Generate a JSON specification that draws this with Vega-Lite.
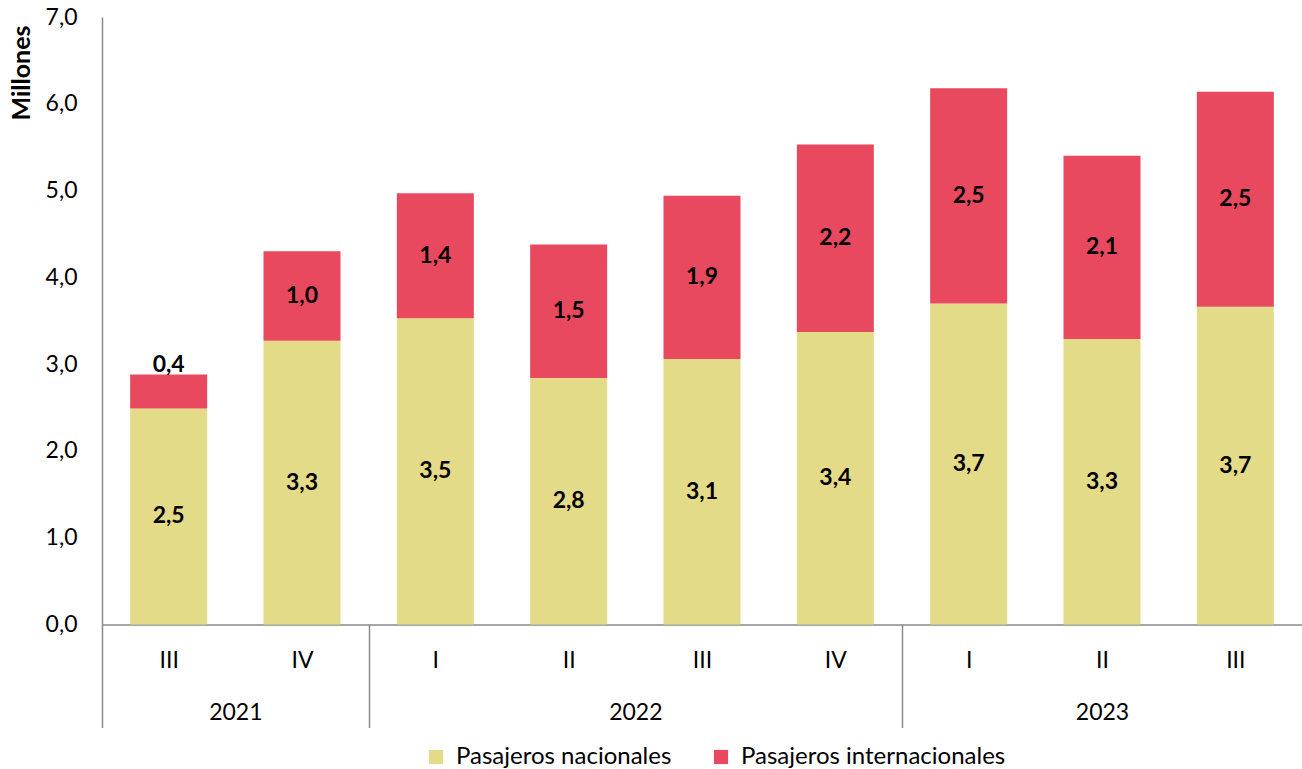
{
  "$schema": "https://vega.github.io/schema/vega-lite/v6.json",
  "width": 1200,
  "height": 607.5,
  "autosize": "none",
  "padding": {"left": 102, "top": 17, "right": 0, "bottom": 144.5},
  "config": {
    "locale": {"number": {"decimal": ",", "thousands": ".", "grouping": [3], "currency": ["", " €"]}},
    "font": "Lato",
    "view": {"stroke": null},
    "axis": {"grid": false, "ticks": false, "labelFont": "Lato", "labelFontSize": 23, "labelColor": "#000000", "domainColor": "#898989", "domainWidth": 1.5}
  },
  "data": {
    "values": [
      {"idx": 0, "trimestre": "III", "anio": "2021", "tipo": "Pasajeros nacionales", "valor": 2.49},
      {"idx": 0, "trimestre": "III", "anio": "2021", "tipo": "Pasajeros internacionales", "valor": 0.39},
      {"idx": 1, "trimestre": "IV", "anio": "2021", "tipo": "Pasajeros nacionales", "valor": 3.27},
      {"idx": 1, "trimestre": "IV", "anio": "2021", "tipo": "Pasajeros internacionales", "valor": 1.03},
      {"idx": 2, "trimestre": "I", "anio": "2022", "tipo": "Pasajeros nacionales", "valor": 3.53},
      {"idx": 2, "trimestre": "I", "anio": "2022", "tipo": "Pasajeros internacionales", "valor": 1.44},
      {"idx": 3, "trimestre": "II", "anio": "2022", "tipo": "Pasajeros nacionales", "valor": 2.84},
      {"idx": 3, "trimestre": "II", "anio": "2022", "tipo": "Pasajeros internacionales", "valor": 1.54},
      {"idx": 4, "trimestre": "III", "anio": "2022", "tipo": "Pasajeros nacionales", "valor": 3.06},
      {"idx": 4, "trimestre": "III", "anio": "2022", "tipo": "Pasajeros internacionales", "valor": 1.88},
      {"idx": 5, "trimestre": "IV", "anio": "2022", "tipo": "Pasajeros nacionales", "valor": 3.37},
      {"idx": 5, "trimestre": "IV", "anio": "2022", "tipo": "Pasajeros internacionales", "valor": 2.16},
      {"idx": 6, "trimestre": "I", "anio": "2023", "tipo": "Pasajeros nacionales", "valor": 3.70},
      {"idx": 6, "trimestre": "I", "anio": "2023", "tipo": "Pasajeros internacionales", "valor": 2.48},
      {"idx": 7, "trimestre": "II", "anio": "2023", "tipo": "Pasajeros nacionales", "valor": 3.29},
      {"idx": 7, "trimestre": "II", "anio": "2023", "tipo": "Pasajeros internacionales", "valor": 2.11},
      {"idx": 8, "trimestre": "III", "anio": "2023", "tipo": "Pasajeros nacionales", "valor": 3.66},
      {"idx": 8, "trimestre": "III", "anio": "2023", "tipo": "Pasajeros internacionales", "valor": 2.48}
    ]
  },
  "transform": [
    {"stack": "valor", "groupby": ["idx"], "sort": [{"field": "tipo", "order": "descending"}], "as": ["v0", "v1"]},
    {"calculate": "(datum.v0 + datum.v1) / 2", "as": "vmid"}
  ],
  "layer": [
    {
      "mark": {"type": "bar", "width": 77},
      "encoding": {
        "x": {
          "field": "idx", "type": "quantitative",
          "scale": {"domain": [-0.5, 8.5], "nice": false, "zero": false, "padding": 0},
          "axis": {
            "orient": "bottom", "title": null, "values": [0, 1, 2, 3, 4, 5, 6, 7, 8],
            "labelExpr": "['III','IV','I','II','III','IV','I','II','III'][datum.value]",
            "labelBaseline": "alphabetic", "labelPadding": 43, "labelFlush": false, "labelOverlap": false,
            "domain": true
          }
        },
        "y": {
          "field": "v0", "type": "quantitative",
          "scale": {"domain": [0, 7], "nice": false},
          "axis": {
            "title": "Millones", "values": [0, 1, 2, 3, 4, 5, 6, 7], "format": ".1f",
            "labelPadding": 25, "labelFlush": false, "labelOverlap": false,
            "titleFont": "Lato", "titleFontSize": 25, "titleFontWeight": "bold", "titleColor": "#000000",
            "titleAngle": -90, "titleX": -81, "titleY": 8, "titleAlign": "right", "titleBaseline": "middle"
          }
        },
        "y2": {"field": "v1"},
        "color": {
          "field": "tipo", "type": "nominal",
          "scale": {"domain": ["Pasajeros nacionales", "Pasajeros internacionales"], "range": ["#E3DB87", "#E9495F"]},
          "legend": {
            "title": null, "orient": "none", "direction": "horizontal", "legendX": 322, "legendY": 728, "padding": 0,
            "symbolType": "square", "symbolSize": 200, "symbolStrokeWidth": 0, "symbolOpacity": 1,
            "labelFont": "Lato", "labelFontSize": 24, "labelColor": "#000000", "labelOffset": 8, "labelLimit": 0, "columnPadding": 37
          }
        }
      }
    },
    {
      "transform": [{"filter": "datum.valor >= 0.5"}],
      "mark": {"type": "text", "font": "Lato", "fontSize": 23, "fontWeight": "bold", "color": "#000000", "baseline": "middle"},
      "encoding": {
        "x": {
          "field": "idx", "type": "quantitative",
          "axis": {
            "orient": "bottom", "title": null, "values": [0.5, 3.5, 7],
            "labelExpr": "datum.value < 1 ? '2021' : (datum.value < 5 ? '2022' : '2023')",
            "labelBaseline": "alphabetic", "labelPadding": 95, "labelFlush": false, "labelOverlap": false,
            "domain": false
          }
        },
        "y": {"field": "vmid", "type": "quantitative"},
        "text": {"field": "valor", "type": "quantitative", "format": ".1f"}
      }
    },
    {
      "transform": [{"filter": "datum.valor < 0.5"}],
      "mark": {"type": "text", "font": "Lato", "fontSize": 23, "fontWeight": "bold", "color": "#000000", "baseline": "alphabetic", "dy": -3},
      "encoding": {
        "x": {
          "field": "idx", "type": "quantitative",
          "axis": {
            "orient": "bottom", "title": null, "values": [-0.5, 1.5, 5.5], "labels": false, "domain": false,
            "ticks": true, "tickSize": 103, "tickColor": "#898989", "tickWidth": 1.5
          }
        },
        "y": {"field": "v1", "type": "quantitative"},
        "text": {"field": "valor", "type": "quantitative", "format": ".1f"}
      }
    }
  ],
  "resolve": {"axis": {"x": "independent"}}
}
